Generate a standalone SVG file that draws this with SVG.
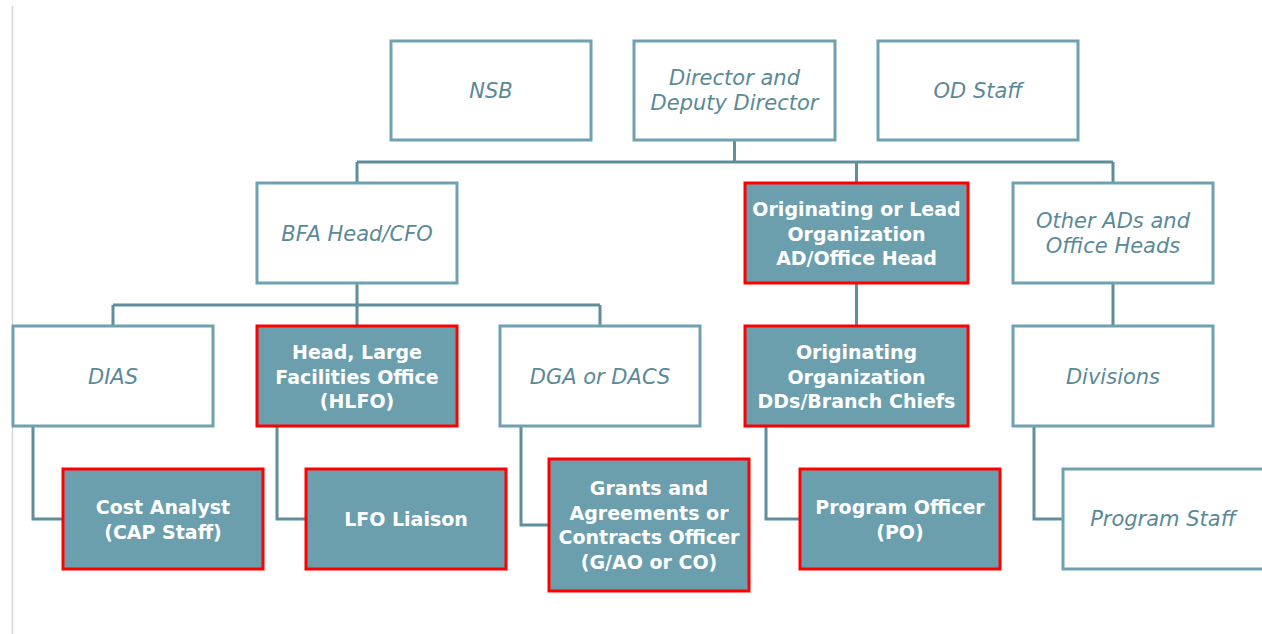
<svg xmlns="http://www.w3.org/2000/svg" width="1262" height="634" viewBox="0 0 1262 634">
<style>
.w{fill:#ffffff;stroke:#6fa1b0;stroke-width:3}
.f{fill:#6c9fae;stroke:#ff0000;stroke-width:3}
.c{fill:none;stroke:#5f8e9c;stroke-width:3}
.ti{font-family:"DejaVu Sans",sans-serif;font-style:italic;font-size:21px;fill:#5a8998;text-anchor:middle}
.tb{font-family:"DejaVu Sans",sans-serif;font-weight:bold;font-size:19px;fill:#ffffff;text-anchor:middle}
</style>
<rect width="1262" height="634" fill="#ffffff"/>
<line x1="12.5" y1="6" x2="12.5" y2="634" stroke="#d6d6d6" stroke-width="1.5"/>
<g id="connectors">
<path class="c" d="M734.5 140V162M357 162H1113M357 162V183M856.5 162V183M1113 162V183"/>
<path class="c" d="M357 283V305M113 305H600M113 305V326M357 305V326M600 305V326"/>
<path class="c" d="M856.5 283V326M1113 283V326"/>
<path class="c" d="M33 426V519H63M277 426V519H306M521 426V525H549M766 426V519H800M1034 426V519H1063"/>
</g>
<g id="nsb"><rect class="w" x="391" y="41" width="200" height="99"/><text class="ti" x="491" y="98">NSB</text></g>
<g id="director"><rect class="w" x="634" y="41" width="201" height="99"/><text class="ti" x="734.5" y="85">Director and</text><text class="ti" x="734.5" y="110">Deputy Director</text></g>
<g id="odstaff"><rect class="w" x="878" y="41" width="200" height="99"/><text class="ti" x="978" y="98">OD Staff</text></g>
<g id="bfa"><rect class="w" x="257" y="183" width="200" height="100"/><text class="ti" x="357" y="241">BFA Head/CFO</text></g>
<g id="origlead"><rect class="f" x="745" y="183" width="223" height="100"/><text class="tb" x="856.5" y="216">Originating or Lead</text><text class="tb" x="856.5" y="241">Organization</text><text class="tb" x="856.5" y="265">AD/Office Head</text></g>
<g id="otherads"><rect class="w" x="1013" y="183" width="200" height="100"/><text class="ti" x="1113" y="228">Other ADs and</text><text class="ti" x="1113" y="253">Office Heads</text></g>
<g id="dias"><rect class="w" x="13" y="326" width="200" height="100"/><text class="ti" x="113" y="384">DIAS</text></g>
<g id="hlfo"><rect class="f" x="257" y="326" width="200" height="100"/><text class="tb" x="357" y="359">Head, Large</text><text class="tb" x="357" y="384">Facilities Office</text><text class="tb" x="357" y="408">(HLFO)</text></g>
<g id="dga"><rect class="w" x="500" y="326" width="200" height="100"/><text class="ti" x="600" y="384">DGA or DACS</text></g>
<g id="origdds"><rect class="f" x="745" y="326" width="223" height="100"/><text class="tb" x="856.5" y="359">Originating</text><text class="tb" x="856.5" y="384">Organization</text><text class="tb" x="856.5" y="408">DDs/Branch Chiefs</text></g>
<g id="divisions"><rect class="w" x="1013" y="326" width="200" height="100"/><text class="ti" x="1113" y="384">Divisions</text></g>
<g id="costanalyst"><rect class="f" x="63" y="469" width="200" height="100"/><text class="tb" x="163" y="514">Cost Analyst</text><text class="tb" x="163" y="539">(CAP Staff)</text></g>
<g id="lfoliaison"><rect class="f" x="306" y="469" width="200" height="100"/><text class="tb" x="406" y="526">LFO Liaison</text></g>
<g id="grants"><rect class="f" x="549" y="459" width="200" height="132"/><text class="tb" x="649" y="495">Grants and</text><text class="tb" x="649" y="520">Agreements or</text><text class="tb" x="649" y="544">Contracts Officer</text><text class="tb" x="649" y="569">(G/AO or CO)</text></g>
<g id="po"><rect class="f" x="800" y="469" width="200" height="100"/><text class="tb" x="900" y="514">Program Officer</text><text class="tb" x="900" y="539">(PO)</text></g>
<g id="programstaff"><rect class="w" x="1063" y="469" width="215" height="100"/><text class="ti" x="1163" y="526">Program Staff</text></g>
</svg>
